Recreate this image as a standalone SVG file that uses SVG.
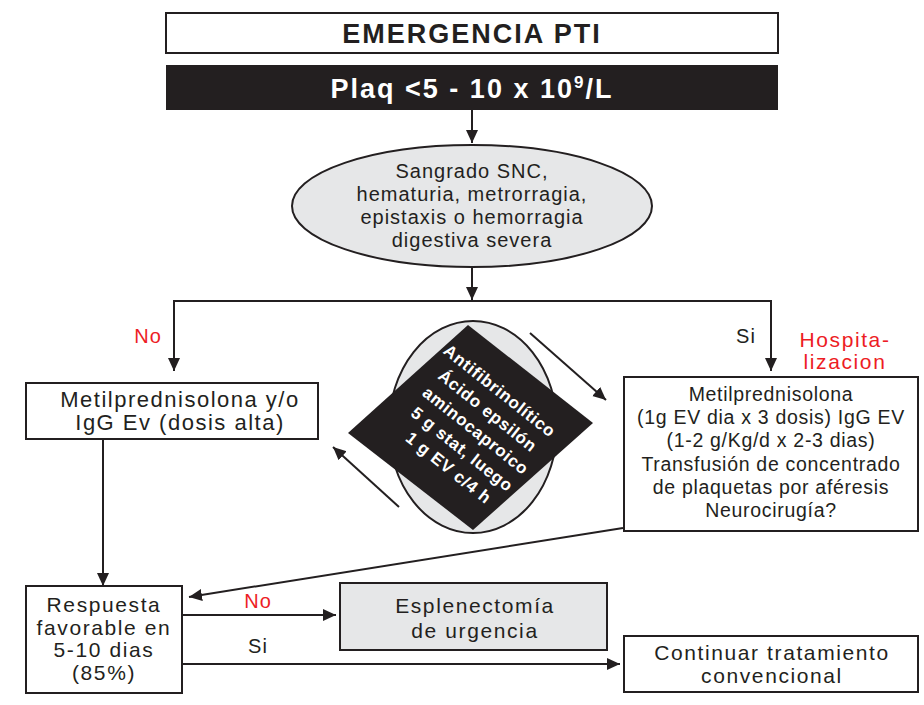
<svg xmlns="http://www.w3.org/2000/svg" width="924" height="705" viewBox="0 0 924 705">
<defs>
<style>
text{font-family:"Liberation Sans",Arial,sans-serif;fill:#231f20;text-anchor:middle}
.box{fill:#fff;stroke:#231f20;stroke-width:2}
.gray{fill:#e6e7e8;stroke:#231f20;stroke-width:2}
.t{font-size:21px;letter-spacing:1.6px}
.l{font-size:22px;letter-spacing:1.5px}
.r{font-size:19.5px;letter-spacing:0.7px}
.e{font-size:20px;letter-spacing:1px}
.red{fill:#ed1c24}
.h{font-size:27px;font-weight:bold;letter-spacing:2px}
.w{font-size:17px;font-weight:bold;letter-spacing:0.7px;fill:#fff}
.c{fill:none;stroke:#231f20;stroke-width:2}
</style>
<marker id="ah" markerUnits="userSpaceOnUse" markerWidth="14" markerHeight="14" viewBox="0 0 14 14" refX="13" refY="7" orient="auto">
<path d="M0,1 L13,7 L0,13 Z" fill="#231f20"/>
</marker>
</defs>

<g id="title">
<rect class="box" x="166" y="13" width="612" height="40"/>
<text class="h" x="472" y="43">EMERGENCIA PTI</text>
</g>

<g id="plaq">
<rect x="166" y="65" width="612" height="45" fill="#231f20"/>
<text class="h" x="472" y="98" style="fill:#fff">Plaq &lt;5 - 10 x 10<tspan font-size="17" dy="-10">9</tspan><tspan dy="10">/L</tspan></text>
</g>

<g id="sangrado">
<ellipse class="gray" cx="472" cy="206" rx="180" ry="61"/>
<text class="e" x="472" y="178">Sangrado SNC,</text>
<text class="e" x="472" y="201">hematuria, metrorragia,</text>
<text class="e" x="472" y="224">epistaxis o hemorragia</text>
<text class="e" x="472" y="247">digestiva severa</text>
</g>

<g id="connectors">
<line class="c" x1="472" y1="110" x2="472" y2="143" marker-end="url(#ah)"/>
<line class="c" x1="472" y1="267" x2="472" y2="300" marker-end="url(#ah)"/>
<polyline class="c" points="174,371 174,301 771,301 771,371"/>
<line class="c" x1="174" y1="360" x2="174" y2="371" marker-end="url(#ah)"/>
<line class="c" x1="771" y1="360" x2="771" y2="371" marker-end="url(#ah)"/>
<line class="c" x1="103" y1="439" x2="103" y2="586" marker-end="url(#ah)"/>
<line class="c" x1="623" y1="528" x2="189" y2="597" marker-end="url(#ah)"/>
<line class="c" x1="182" y1="615" x2="336" y2="615" marker-end="url(#ah)"/>
<line class="c" x1="182" y1="664" x2="620" y2="664" marker-end="url(#ah)"/>
<line class="c" x1="530" y1="333" x2="606" y2="400" marker-end="url(#ah)"/>
<line class="c" x1="399" y1="507" x2="333" y2="447" marker-end="url(#ah)"/>
<text class="e red" x="148" y="343">No</text>
<text class="e" x="746" y="343">Si</text>
<text class="e red" x="258" y="608">No</text>
<text class="e" x="258" y="653">Si</text>
</g>

<g id="hospitalizacion">
<text class="t red" x="845" y="347">Hospita-</text>
<text class="t red" x="845" y="369">lizacion</text>
</g>

<g id="antifibrinolitico">
<ellipse class="gray" cx="473" cy="427" rx="84" ry="106"/>
<polygon points="468,325 593,423 473,530 348,433" fill="#231f20"/>
<g transform="rotate(38.5 470.5 427.5)">
<text class="w" x="470.5" y="386.5">Antifibrinolítico</text>
<text class="w" x="473.5" y="409.5">Ácido epsilón</text>
<text class="w" x="476.5" y="432.5">aminocaproico</text>
<text class="w" x="477.5" y="455.5">5 g stat, luego</text>
<text class="w" x="478.5" y="478.5">1 g EV c/4 h</text>
</g>
</g>

<g id="metil-alta">
<rect class="box" x="26" y="383" width="292" height="56"/>
<text class="l" x="180" y="407">Metilprednisolona y/o</text>
<text class="l" x="180" y="430">IgG Ev (dosis alta)</text>
</g>

<g id="metil-hosp">
<rect class="box" x="624" y="377" width="294" height="154"/>
<text class="r" x="771" y="401">Metilprednisolona</text>
<text class="r" x="771" y="424">(1g EV dia x 3 dosis) IgG EV</text>
<text class="r" x="771" y="447">(1-2 g/Kg/d x 2-3 dias)</text>
<text class="r" x="771" y="471">Transfusión de concentrado</text>
<text class="r" x="771" y="494">de plaquetas por aféresis</text>
<text class="r" x="771" y="517">Neurocirugía?</text>
</g>

<g id="respuesta">
<rect class="box" x="26" y="586" width="156" height="107"/>
<text class="t" x="104" y="612">Respuesta</text>
<text class="t" x="104" y="635">favorable en</text>
<text class="t" x="104" y="657">5-10 dias</text>
<text class="t" x="104" y="680">(85%)</text>
</g>

<g id="esplenectomia">
<rect class="gray" x="340" y="583" width="267" height="67"/>
<text class="t" x="475" y="613">Esplenectomía</text>
<text class="t" x="475" y="638">de urgencia</text>
</g>

<g id="continuar">
<rect class="box" x="624" y="636" width="294" height="56"/>
<text class="t" x="772" y="660">Continuar tratamiento</text>
<text class="t" x="772" y="683">convencional</text>
</g>
</svg>
